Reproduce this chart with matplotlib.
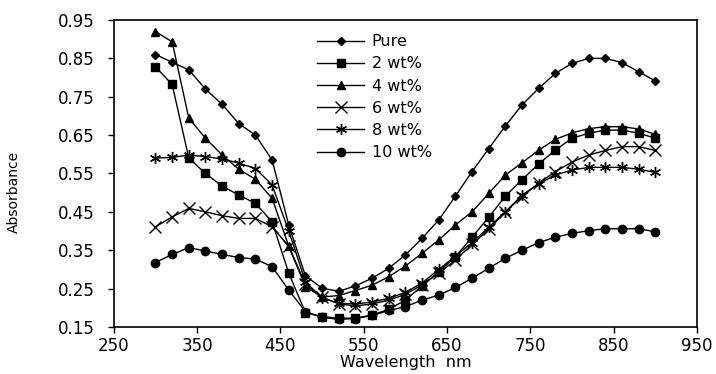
import matplotlib
matplotlib.use("Agg")
import matplotlib.pyplot as plt
import numpy as np

wavelength = list(range(300, 901, 20))

pure = [0.86, 0.84, 0.82, 0.77, 0.73, 0.68, 0.65, 0.585, 0.415, 0.283, 0.251, 0.243,
        0.257, 0.277, 0.303, 0.338, 0.381, 0.429, 0.491, 0.555, 0.615, 0.674, 0.729,
        0.772, 0.811, 0.837, 0.85, 0.85, 0.839, 0.815, 0.791]
wt2 = [0.828, 0.782, 0.59, 0.55, 0.517, 0.494, 0.472, 0.424, 0.29, 0.187, 0.177, 0.173,
       0.173, 0.181, 0.196, 0.22, 0.257, 0.294, 0.333, 0.384, 0.436, 0.491, 0.534,
       0.575, 0.611, 0.642, 0.655, 0.663, 0.663, 0.655, 0.642]
wt4 = [0.92, 0.893, 0.694, 0.642, 0.598, 0.561, 0.535, 0.485, 0.36, 0.255, 0.228, 0.232,
       0.245, 0.259, 0.281, 0.309, 0.342, 0.377, 0.416, 0.45, 0.498, 0.546, 0.578,
       0.611, 0.639, 0.656, 0.667, 0.672, 0.672, 0.666, 0.652]
wt6 = [0.411, 0.437, 0.459, 0.45, 0.44, 0.433, 0.433, 0.411, 0.36, 0.262, 0.228, 0.21,
       0.205, 0.21, 0.22, 0.235, 0.26, 0.29, 0.325, 0.365, 0.405, 0.45, 0.49,
       0.525, 0.555, 0.58, 0.598, 0.61, 0.62, 0.62, 0.61]
wt8 = [0.59, 0.592, 0.598, 0.594, 0.588, 0.577, 0.563, 0.52, 0.4, 0.268, 0.225, 0.212,
       0.21, 0.215, 0.225, 0.24, 0.265, 0.3, 0.335, 0.37, 0.41, 0.45, 0.494,
       0.523, 0.546, 0.559, 0.566, 0.566, 0.566, 0.561, 0.553]
wt10 = [0.318, 0.339, 0.357, 0.348, 0.339, 0.331, 0.327, 0.307, 0.246, 0.19, 0.175, 0.17,
        0.172, 0.18, 0.193, 0.203, 0.22, 0.233, 0.253, 0.277, 0.303, 0.329, 0.35,
        0.37, 0.384, 0.394, 0.401, 0.406, 0.406, 0.406, 0.398]

labels = ["Pure", "2 wt%", "4 wt%", "6 wt%", "8 wt%", "10 wt%"]
series = [pure, wt2, wt4, wt6, wt8, wt10]
markers = ["D", "s", "^", "x", (6, 2, 0), "o"]
msizes = [4.5, 6, 6, 8, 8, 6]

fig = plt.figure(figsize=(7.16, 3.74), dpi=100)
ax = fig.add_axes([0.159, 0.1257, 0.8145, 0.8208])

for y, lab, m, ms in zip(series, labels, markers, msizes):
    ax.plot(wavelength, y, color="black", linewidth=1.0, marker=m, markersize=ms,
            markeredgewidth=1.0, label=lab)

ax.set_xlim(250, 950)
ax.set_ylim(0.15, 0.95)
ax.set_xticks(np.arange(250, 951, 100))
ax.set_yticks(np.arange(0.15, 0.951, 0.1))
ax.set_yticklabels([f"{v:.2f}" for v in np.arange(0.15, 0.951, 0.1)])
ax.tick_params(direction="out", length=4, width=1, labelsize=12, colors="black")
ax.tick_params(axis="y", pad=10)
ax.tick_params(axis="x", pad=3)
for s in ax.spines.values():
    s.set_color("black")
    s.set_linewidth(1.2)

ax.set_xlabel("Wavelength  nm", fontsize=11.5, labelpad=0)
ax.set_ylabel("Absorbance", fontsize=10)
ax.yaxis.set_label_coords(-0.16, 0.44)

ax.legend(loc="upper left", bbox_to_anchor=(0.33, 0.99), frameon=False, fontsize=11.5,
          handlelength=2.9, labelspacing=0.45, borderpad=0.2, handletextpad=0.5)

fig.savefig("out.png", dpi=100)
